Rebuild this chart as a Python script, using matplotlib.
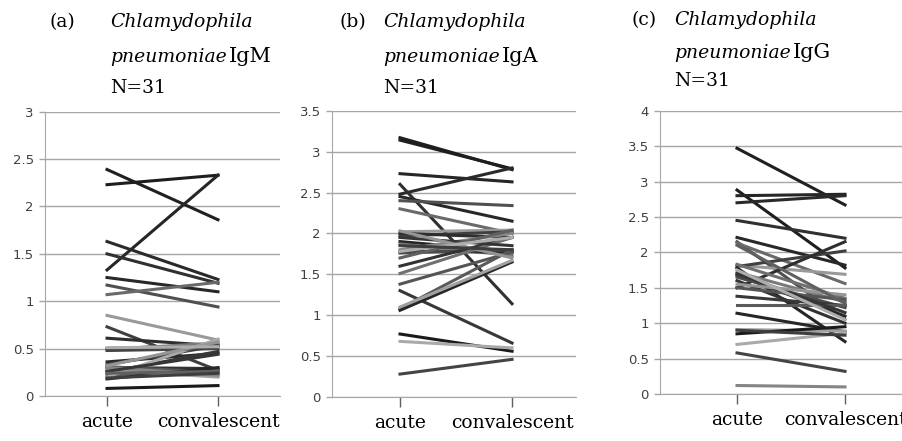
import matplotlib
matplotlib.use("Agg")
import matplotlib.pyplot as plt
import numpy as np

plt.rc('font', family='serif')

categories = ['acute', 'convalescent']

# IgM (a)
igm_acute = [2.39, 2.23, 1.33, 1.63, 1.50, 1.25, 1.17, 1.07, 0.85, 0.73, 0.61,
             0.50, 0.49, 0.36, 0.33, 0.30, 0.28, 0.31, 0.25, 0.22, 0.18, 0.27,
             0.08, 0.20, 0.48, 0.30, 0.26, 0.32, 0.24, 0.51, 0.19]
igm_conv = [1.86, 2.33, 2.33, 1.23, 1.19, 1.10, 0.94, 1.20, 0.59, 0.27, 0.53,
            0.54, 0.56, 0.45, 0.53, 0.29, 0.23, 0.25, 0.47, 0.28, 0.30, 0.20,
            0.11, 0.60, 0.50, 0.22, 0.44, 0.57, 0.26, 0.52, 0.24]

# IgA (b)
iga_acute = [3.17, 3.14, 2.73, 2.48, 2.60, 2.45, 2.40, 2.30, 2.02, 1.97, 2.00,
             1.90, 1.87, 1.78, 1.76, 1.60, 1.51, 1.38, 1.30, 1.08, 1.06, 1.10,
             0.77, 0.68, 0.28, 1.80, 1.95, 2.03, 1.70, 1.78, 1.85]
iga_conv = [2.78, 2.79, 2.63, 2.80, 1.14, 2.15, 2.34, 2.00, 2.04, 2.02, 1.95,
            1.78, 1.73, 1.77, 1.80, 1.95, 1.95, 1.77, 0.66, 1.80, 1.65, 1.67,
            0.56, 0.60, 0.46, 2.00, 1.85, 1.70, 2.04, 1.95, 1.80]

# IgG (c)
igg_acute = [3.47, 2.88, 2.80, 2.70, 2.45, 2.21, 2.15, 2.13, 1.82, 1.80, 1.50,
             1.78, 1.72, 1.68, 1.65, 1.60, 1.83, 1.50, 1.38, 1.25, 1.14, 0.91,
             0.85, 0.70, 0.58, 0.12, 1.70, 1.55, 2.10, 1.75, 0.90]
igg_conv = [2.67, 1.78, 2.82, 2.80, 2.20, 1.82, 1.05, 1.56, 1.69, 2.02, 2.15,
            0.74, 1.30, 1.10, 1.22, 1.00, 1.35, 1.33, 1.25, 1.25, 0.88, 0.89,
            0.95, 0.86, 0.32, 0.10, 1.15, 1.40, 1.28, 1.05, 0.83]

shades = ['#202020', '#1e1e1e', '#262626', '#2a2a2a', '#303030', '#282828',
          '#505050', '#6a6a6a', '#999999', '#404040', '#2e2e2e', '#262626',
          '#7a7a7a', '#2a2a2a', '#4a4a4a', '#333333', '#707070', '#555555',
          '#383838', '#5a5a5a', '#262626', '#a0a0a0', '#1a1a1a', '#aaaaaa',
          '#444444', '#858585', '#363636', '#959595', '#606060', '#adadad',
          '#3e3e3e']

panels = [
    dict(acute=igm_acute, conv=igm_conv, ymax=3, pos=(45, 280, 111.7, 396),
         xl=(-0.559, 1.559), letter='(a)', ig='IgM', tx=(50, 110), ty=(22, 57, 88)),
    dict(acute=iga_acute, conv=iga_conv, ymax=3.5, pos=(332, 576, 110.7, 397),
         xl=(-0.607, 1.571), letter='(b)', ig='IgA', tx=(340, 383), ty=(22, 57, 88)),
    dict(acute=igg_acute, conv=igg_conv, ymax=4, pos=(660, 922, 110.7, 394),
         xl=(-0.713, 1.713), letter='(c)', ig='IgG', tx=(632, 674), ty=(20, 53, 81)),
]

W, H = 903, 441
fig = plt.figure(figsize=(W / 100, H / 100), dpi=100)
grid_c = '#a6a6a6'

for p in panels:
    l, r, t, b = p['pos']
    ax = fig.add_axes([l / W, (H - b) / H, (r - l) / W, (b - t) / H])
    for i, (a, c) in enumerate(zip(p['acute'], p['conv'])):
        ax.plot([0, 1], [a, c], color=shades[i % len(shades)], lw=2.2,
                solid_capstyle='projecting')
    ax.set_xlim(*p['xl'])
    ax.set_ylim(0, p['ymax'])
    ax.set_yticks(np.arange(0, p['ymax'] + 0.01, 0.5))
    ax.set_yticklabels(['%g' % v for v in np.arange(0, p['ymax'] + 0.01, 0.5)],
                       family='DejaVu Sans', fontsize=9.5, color='#404040')
    ax.yaxis.grid(True, color=grid_c, lw=1.0)
    ax.set_axisbelow(True)
    ax.set_xticks([0, 1])
    ax.set_xticklabels(categories, fontsize=13.5, family='DejaVu Serif')
    ax.tick_params(axis='x', length=7, color='#606060', width=1, pad=5)
    ax.tick_params(axis='y', length=4, color=grid_c, width=1, pad=4)
    for s in ['top', 'right']:
        ax.spines[s].set_visible(False)
    ax.spines['left'].set_color(grid_c)
    ax.spines['bottom'].set_color(grid_c)
    ax.patch.set_alpha(0)

    # titles
    x0, x1 = p['tx']
    y1, y2, y3 = p['ty']
    fs = 13.5
    fig.text(x0 / W, 1 - y1 / H, p['letter'], fontsize=fs, va='center',
             family='DejaVu Serif')
    fig.text(x1 / W, 1 - y1 / H, 'Chlamydophila', fontsize=fs, va='center',
             family='DejaVu Serif', style='italic')
    tt = fig.text(x1 / W, 1 - y2 / H, 'pneumoniae', fontsize=fs, va='center',
                  family='DejaVu Serif', style='italic')
    rend = fig.canvas.get_renderer()
    bb = tt.get_window_extent(renderer=rend)
    fig.text(bb.x1 / W + 2 / W, 1 - y2 / H, p['ig'], fontsize=fs + 1.5, va='center',
             family='DejaVu Serif')
    fig.text(x1 / W, 1 - y3 / H, 'N=31', fontsize=fs, va='center',
             family='DejaVu Serif')

fig.savefig('out.png', dpi=100)
